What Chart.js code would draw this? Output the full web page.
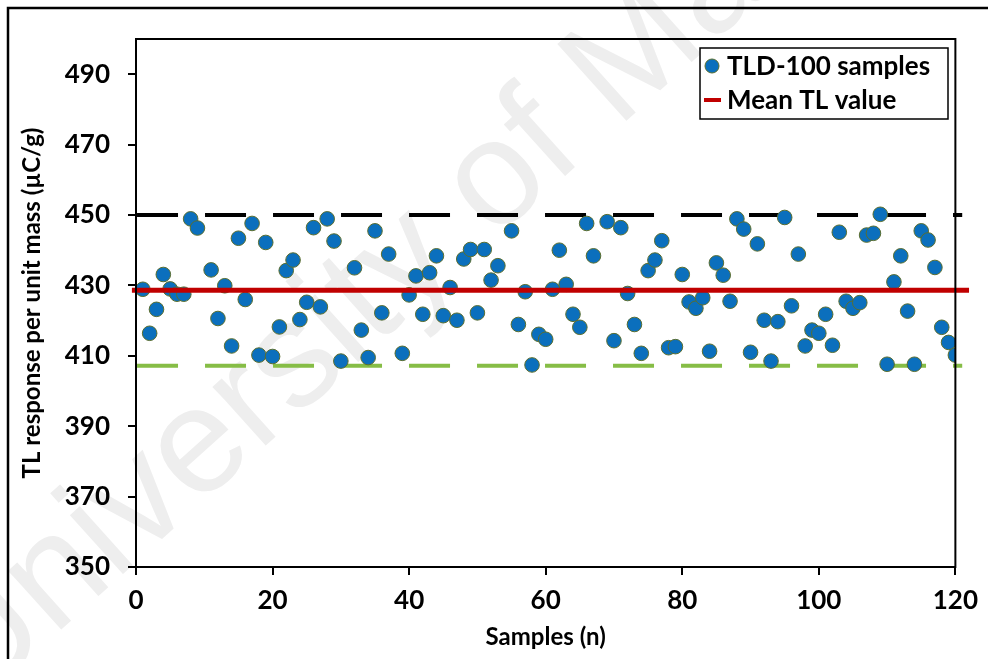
<!DOCTYPE html>
<html>
<head>
<meta charset="utf-8">
<script src="https://cdn.jsdelivr.net/npm/chart.js@4.4.1/dist/chart.umd.min.js"></script>
<style>
  html, body { margin: 0; padding: 0; background: #fff; }
  #wrap { width: 988px; height: 659px; }
</style>
</head>
<body>
<div id="wrap"><canvas id="tlChart" width="988" height="659"></canvas></div>
<script>
/* ================================
   Data
================================ */
const sampleNo = [
  1, 2, 3, 4, 5, 6, 7, 8, 9, 11, 12, 13, 14, 15, 16, 17, 18, 19, 20,
  21, 22, 23, 24, 25, 26, 27, 28, 29, 30, 32, 33, 34, 35, 36, 37, 39, 40,
  41, 42, 43, 44, 45, 46, 47, 48, 49, 50, 51, 52, 53, 55, 56, 57, 58, 59, 60,
  61, 62, 63, 64, 65, 66, 67, 69, 70, 71, 72, 73, 74, 75, 76, 77, 78, 79, 80,
  81, 82, 83, 84, 85, 86, 87, 88, 89, 90, 91, 92, 93, 94, 95, 96, 97, 98, 99, 100,
  101, 102, 103, 104, 105, 106, 107, 108, 109, 110, 111, 112, 113, 114, 115, 116, 117, 118, 119, 120
];
const tlValue = [
  428.9, 416.4, 423.2, 433.1, 429.0, 427.5, 427.5, 448.9, 446.3, 434.4, 420.6, 429.9, 412.8, 443.4, 426.0, 447.6, 410.2, 442.2, 409.8,
  418.2, 434.2, 437.2, 420.3, 425.2, 446.4, 423.9, 448.9, 442.6, 408.5, 435.0, 417.3, 409.5, 445.5, 422.2, 438.9, 410.7, 427.3,
  432.7, 421.8, 433.6, 438.4, 421.4, 429.4, 420.1, 437.5, 440.2, 422.2, 440.2, 431.5, 435.6, 445.5, 418.9, 428.2, 407.4, 416.1, 414.7,
  428.9, 440.0, 430.3, 421.8, 418.1, 447.6, 438.4, 448.1, 414.3, 446.4, 427.7, 418.9, 410.7, 434.2, 437.2, 442.7, 412.3, 412.6, 433.1,
  425.3, 423.5, 426.5, 411.3, 436.4, 432.9, 425.5, 448.9, 446.0, 411.0, 441.8, 420.1, 408.5, 419.7, 449.3, 424.2, 438.9, 412.8, 417.3, 416.4,
  421.8, 413.0, 445.1, 425.5, 423.5, 425.1, 444.3, 444.8, 450.2, 407.6, 431.0, 438.4, 422.7, 407.6, 445.5, 442.9, 435.1, 418.1, 413.8, 410.2
];

const meanTL = 428.6;
const upperLimit = 450;
const lowerLimit = 407.2;
const limitSpan = [0.15, 121];
const meanSpan = [-0.6, 122];

const xTicks = [0, 20, 40, 60, 80, 100, 120];
const yTicks = [350, 370, 390, 410, 430, 450, 470, 490];

const seriesLabels = ["TLD-100 samples", "Mean TL value"];

/* ================================
   Style
================================ */
const FONT = 'Lato, "Open Sans", sans-serif';
const POINT_BLUE = "#0b6fbd";
const POINT_EDGE = "#5b6e2f";
const MEAN_RED = "#c00000";
const LOW_GREEN = "#86bd46";

/* ================================
   Plugins
================================ */
const pageBackground = {
  id: "pageBackground",
  beforeDraw(chart) {
    const ctx = chart.ctx;
    ctx.save();
    ctx.fillStyle = "#ffffff";
    ctx.fillRect(0, 0, chart.width, chart.height);

    // faint watermark
    ctx.translate(-27, 709);
    ctx.rotate(-42 * Math.PI / 180);
    ctx.font = '150px "Liberation Sans", Arial, sans-serif';
    ctx.fillStyle = "#eeeeee";
    ctx.textBaseline = "alphabetic";
    ctx.fillText("University of Malaya", 0, 0);
    ctx.restore();
  }
};

const frameAndLegend = {
  id: "frameAndLegend",
  afterDraw(chart) {
    const ctx = chart.ctx;
    const area = chart.chartArea;
    ctx.save();

    // plot frame
    ctx.strokeStyle = "#000";
    ctx.lineWidth = 2;
    ctx.strokeRect(area.left, area.top, area.right - area.left, area.bottom - area.top);

    // outer chart border
    ctx.lineWidth = 2.5;
    ctx.strokeRect(8, 8, 1000, 700);

    // legend box
    const bx = 700, by = 48, bw = 248, bh = 71;
    ctx.fillStyle = "#fff";
    ctx.fillRect(bx, by, bw, bh);
    ctx.lineWidth = 1.5;
    ctx.strokeRect(bx, by, bw, bh);

    ctx.font = "bold 26px " + FONT;
    ctx.textBaseline = "middle";

    // points entry
    ctx.beginPath();
    ctx.arc(712, 66, 7, 0, Math.PI * 2);
    ctx.fillStyle = POINT_BLUE;
    ctx.fill();
    ctx.lineWidth = 1;
    ctx.strokeStyle = POINT_EDGE;
    ctx.stroke();
    ctx.fillStyle = "#000";
    ctx.fillText(seriesLabels[0], 727, 67);

    // mean entry
    ctx.beginPath();
    ctx.moveTo(704, 100);
    ctx.lineTo(721, 100);
    ctx.lineWidth = 4;
    ctx.strokeStyle = MEAN_RED;
    ctx.stroke();
    ctx.fillText(seriesLabels[1], 727, 101);

    ctx.restore();
  }
};

/* ================================
   Chart
================================ */
const points = sampleNo.map((n, i) => ({ x: n, y: tlValue[i] }));
const span = (xs, y) => xs.map(x => ({ x, y }));

new Chart(document.getElementById("tlChart"), {
  type: "scatter",
  data: {
    datasets: [
      {
        label: seriesLabels[1],
        data: span(meanSpan, meanTL),
        showLine: true,
        borderColor: MEAN_RED,
        borderWidth: 5,
        pointRadius: 0,
        clip: false,
        order: 0
      },
      {
        label: seriesLabels[0],
        data: points,
        backgroundColor: POINT_BLUE,
        borderColor: POINT_EDGE,
        borderWidth: 1,
        pointRadius: 7.3,
        order: 1
      },
      {
        label: "upper",
        data: span(limitSpan, upperLimit),
        showLine: true,
        borderColor: "#000",
        borderWidth: 4,
        borderDash: [41, 27],
        pointRadius: 0,
        clip: false,
        order: 2
      },
      {
        label: "lower",
        data: span(limitSpan, lowerLimit),
        showLine: true,
        borderColor: LOW_GREEN,
        borderWidth: 4,
        borderDash: [41, 27],
        pointRadius: 0,
        clip: false,
        order: 2
      }
    ]
  },
  options: {
    responsive: false,
    animation: false,
    devicePixelRatio: 1,
    layout: { padding: { top: 39, right: 30, left: 0, bottom: 0 } },
    plugins: {
      legend: { display: false },
      tooltip: { enabled: false }
    },
    scales: {
      x: {
        type: "linear",
        min: 0,
        max: 120,
        afterBuildTicks: s => { s.ticks = xTicks.map(v => ({ value: v })); },
        afterFit: s => { s.height = 92; },
        border: { color: "#000", width: 2 },
        grid: { drawOnChartArea: false, color: "#000", lineWidth: 2, tickLength: 8 },
        ticks: { color: "#000", padding: 10, font: { family: FONT, size: 26, weight: "bold" } },
        title: {
          display: true,
          text: "Samples (n)",
          color: "#000",
          padding: { bottom: 7 },
          font: { family: FONT, size: 24, weight: "bold" }
        }
      },
      y: {
        type: "linear",
        min: 350,
        max: 500,
        afterBuildTicks: s => { s.ticks = yTicks.map(v => ({ value: v })); },
        afterFit: s => { s.width = 136; },
        border: { color: "#000", width: 2 },
        grid: { drawOnChartArea: false, color: "#000", lineWidth: 2, tickLength: 8 },
        ticks: { color: "#000", padding: 18, font: { family: FONT, size: 26, weight: "bold" } },
        title: {
          display: true,
          text: "TL response per unit mass (µC/g)",
          color: "#000",
          padding: { top: 18 },
          font: { family: FONT, size: 24, weight: "bold" }
        }
      }
    }
  },
  plugins: [pageBackground, frameAndLegend]
});
</script>
</body>
</html>
